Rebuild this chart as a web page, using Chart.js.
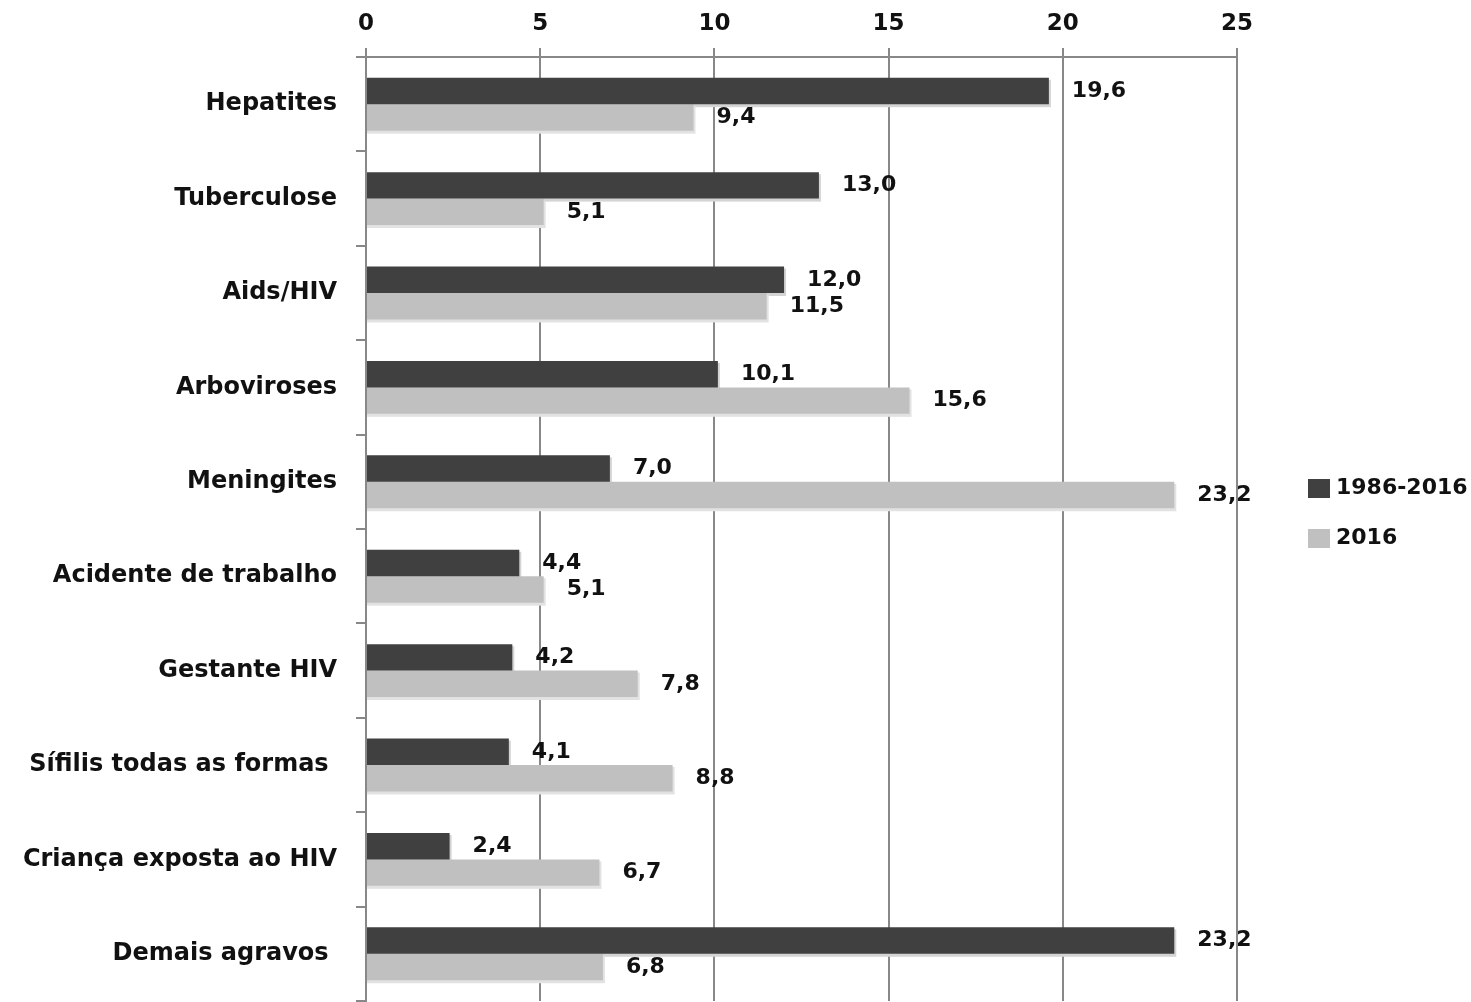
<!DOCTYPE html>
<html>
<head>
<meta charset="utf-8">
<script src="https://cdn.jsdelivr.net/npm/chart.js@4/dist/chart.umd.min.js"></script>
<style>
  html, body { margin: 0; padding: 0; background: #ffffff; }
  #wrap { width: 1471px; height: 1002px; }
</style>
</head>
<body>
<div id="wrap"><canvas id="c" width="1471" height="1002"></canvas></div>
<script>
const categories = [
  "Hepatites",
  "Tuberculose",
  "Aids/HIV",
  "Arboviroses",
  "Meningites",
  "Acidente de trabalho",
  "Gestante HIV",
  "Sífilis todas as formas ",
  "Criança exposta ao HIV",
  "Demais agravos "
];
const seriesNames = ["1986-2016", "2016"];
const values19862016 = [19.6, 13.0, 12.0, 10.1, 7.0, 4.4, 4.2, 4.1, 2.4, 23.2];
const values2016 = [9.4, 5.1, 11.5, 15.6, 23.2, 5.1, 7.8, 8.8, 6.7, 6.8];
const xTicks = [0, 5, 10, 15, 20, 25];

const FONT = "'DejaVu Sans', sans-serif";
const TEXT = "#111111";
const GRID = "#888888";
const SHADOWS = ['#d4d4d4', '#e2e2e2'];

const barShadow = {
  id: 'barShadow',
  beforeDatasetsDraw(chart) {
    const ctx = chart.ctx;
    ctx.save();
    chart.data.datasets.forEach((ds, di) => {
      const meta = chart.getDatasetMeta(di);
      ctx.fillStyle = SHADOWS[di];
      meta.data.forEach((bar) => {
        const h = bar.height;
        ctx.fillRect(bar.base, bar.y - h / 2 + 2, bar.x - bar.base + 2, h + 1);
      });
    });
    ctx.restore();
  }
};

const dataLabels = {
  id: 'dataLabels',
  afterDatasetsDraw(chart) {
    const ctx = chart.ctx;
    ctx.save();
    ctx.font = "bold 22px " + FONT;
    ctx.fillStyle = TEXT;
    ctx.textAlign = 'left';
    ctx.textBaseline = 'middle';
    chart.data.datasets.forEach((ds, di) => {
      const meta = chart.getDatasetMeta(di);
      meta.data.forEach((bar, i) => {
        const txt = ds.data[i].toFixed(1).replace('.', ',');
        ctx.fillText(txt, bar.x + 23, bar.y);
      });
    });
    ctx.restore();
  }
};

const customLegend = {
  id: 'customLegend',
  afterDraw(chart) {
    const ctx = chart.ctx;
    ctx.save();
    ctx.font = "bold 22px " + FONT;
    ctx.textAlign = 'left';
    ctx.textBaseline = 'middle';
    chart.data.datasets.forEach((ds, i) => {
      const yc = 488 + i * 50;
      ctx.fillStyle = ds.backgroundColor;
      ctx.fillRect(1308, yc - 9, 22, 19);
      ctx.fillStyle = TEXT;
      ctx.fillText(ds.label, 1336, yc);
    });
    ctx.restore();
  }
};

new Chart(document.getElementById('c'), {
  type: 'bar',
  data: {
    labels: categories,
    datasets: [
      { label: seriesNames[0], data: values19862016, backgroundColor: '#404040' },
      { label: seriesNames[1], data: values2016, backgroundColor: '#c0c0c0' }
    ]
  },
  options: {
    indexAxis: 'y',
    responsive: false,
    animation: false,
    devicePixelRatio: 1,
    layout: { padding: { top: 0, right: 234, bottom: 1, left: 0 } },
    datasets: { bar: { categoryPercentage: 0.56, barPercentage: 1.0 } },
    plugins: { legend: { display: false }, tooltip: { enabled: false } },
    scales: {
      x: {
        position: 'top',
        min: 0,
        max: 25,
        afterBuildTicks(axis) { axis.ticks = xTicks.map(v => ({ value: v })); },
        afterFit(axis) { axis.height = 57; axis.paddingLeft = 0; axis.paddingRight = 0; },
        grid: { color: GRID, lineWidth: 2, tickLength: 9, drawTicks: true },
        border: { color: GRID, width: 2 },
        ticks: {
          font: { family: FONT, size: 23, weight: 'bold' },
          color: TEXT,
          padding: 10
        }
      },
      y: {
        afterFit(axis) { axis.width = 366; axis.paddingTop = 0; axis.paddingBottom = 0; },
        grid: { color: GRID, lineWidth: 2, tickLength: 10, drawOnChartArea: false, offset: true },
        border: { color: GRID, width: 2 },
        ticks: {
          font: { family: FONT, size: 24, weight: 'bold' },
          color: TEXT,
          padding: 19
        }
      }
    }
  },
  plugins: [barShadow, dataLabels, customLegend]
});
</script>
</body>
</html>
